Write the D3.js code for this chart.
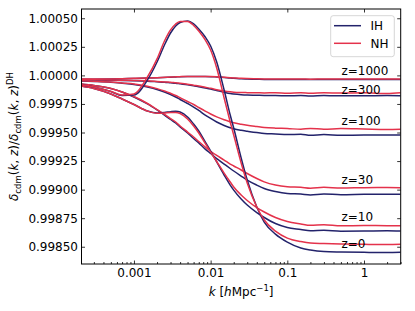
<!DOCTYPE html>
<html><head><meta charset="utf-8">
<script src="https://cdn.jsdelivr.net/npm/d3@7"></script>
<style>
html,body{margin:0;padding:0;background:#fff;}
svg{display:block;font-family:"DejaVu Sans",sans-serif;}
</style></head>
<body>
<svg id="c" width="415" height="311"></svg>
<script>
// ---- data ----
const kValues = [0.0002,0.0003,0.0005,0.0007,0.001,0.0015,0.002,0.0025,0.003,0.0035,0.004,0.005,0.006,0.007,0.0085,0.01,0.012,0.015,0.018,0.02,0.025,0.03,0.04,0.05,0.07,0.1,0.15,0.2,0.3,0.5,1,2,3];
const redshifts = ["1000","300","100","30","10","0"];
const hierarchies = ["IH","NH"];

const IH_z1000 = [0.999966,0.999967,0.999968,0.999970,0.999973,0.999976,0.999979,0.999982,0.999984,0.999986,0.999988,0.999990,0.999990,0.999990,0.999990,0.999989,0.999986,0.999982,0.999977,0.999975,0.999970,0.999968,0.999966,0.999964,0.999964,0.999964,0.999964,0.999964,0.999964,0.999964,0.999964,0.999964,0.999964];
const NH_z1000 = [0.999968,0.999968,0.999969,0.999971,0.999974,0.999977,0.999980,0.999983,0.999985,0.999987,0.999989,0.999991,0.999991,0.999991,0.999991,0.999990,0.999988,0.999984,0.999980,0.999978,0.999974,0.999972,0.999970,0.999969,0.999968,0.999968,0.999968,0.999967,0.999968,0.999968,0.999968,0.999968,0.999968];
const IH_z300 = [0.999961,0.999960,0.999957,0.999955,0.999953,0.999949,0.999944,0.999940,0.999935,0.999931,0.999926,0.999918,0.999909,0.999900,0.999890,0.999881,0.999868,0.999852,0.999841,0.999837,0.999831,0.999828,0.999826,0.999824,0.999824,0.999821,0.999824,0.999820,0.999823,0.999822,0.999822,0.999823,0.999822];
const NH_z300 = [0.999964,0.999962,0.999960,0.999958,0.999955,0.999952,0.999947,0.999943,0.999940,0.999935,0.999931,0.999923,0.999914,0.999907,0.999896,0.999887,0.999875,0.999863,0.999856,0.999853,0.999850,0.999849,0.999848,0.999846,0.999848,0.999844,0.999848,0.999844,0.999847,0.999845,0.999848,0.999841,0.999848];
const IH_z100 = [0.999951,0.999947,0.999940,0.999931,0.999920,0.999898,0.999877,0.999855,0.999833,0.999811,0.999789,0.999754,0.999723,0.999693,0.999653,0.999623,0.999592,0.999561,0.999541,0.999532,0.999519,0.999511,0.999499,0.999491,0.999487,0.999482,0.999484,0.999475,0.999482,0.999476,0.999478,0.999478,0.999478];
const NH_z100 = [0.999954,0.999949,0.999942,0.999933,0.999925,0.999905,0.999884,0.999863,0.999843,0.999824,0.999804,0.999771,0.999745,0.999719,0.999687,0.999662,0.999637,0.999611,0.999594,0.999585,0.999572,0.999563,0.999552,0.999544,0.999538,0.999535,0.999528,0.999536,0.999528,0.999535,0.999531,0.999527,0.999529];
const IH_z30 = [0.999925,0.999912,0.999885,0.999855,0.999811,0.999750,0.999697,0.999653,0.999614,0.999583,0.999548,0.999496,0.999447,0.999408,0.999355,0.999316,0.999272,0.999224,0.999185,0.999163,0.999119,0.999084,0.999040,0.999010,0.998983,0.998966,0.998961,0.998954,0.998961,0.998956,0.998959,0.998960,0.998959];
const NH_z30 = [0.999925,0.999912,0.999885,0.999855,0.999815,0.999754,0.999701,0.999659,0.999621,0.999592,0.999557,0.999504,0.999461,0.999421,0.999373,0.999336,0.999299,0.999259,0.999224,0.999207,0.999172,0.999141,0.999097,0.999068,0.999040,0.999025,0.999020,0.999012,0.999020,0.999014,0.999017,0.999018,0.999017];
const IH_z10 = [0.999907,0.999885,0.999837,0.999793,0.999745,0.999688,0.999671,0.999675,0.999682,0.999686,0.999679,0.999636,0.999574,0.999513,0.999417,0.999338,0.999242,0.999128,0.999040,0.998996,0.998918,0.998865,0.998799,0.998756,0.998703,0.998668,0.998651,0.998639,0.998644,0.998636,0.998637,0.998639,0.998637];
const NH_z10 = [0.999907,0.999885,0.999837,0.999793,0.999745,0.999688,0.999669,0.999671,0.999675,0.999675,0.999666,0.999618,0.999557,0.999496,0.999404,0.999329,0.999246,0.999145,0.999067,0.999023,0.998953,0.998905,0.998843,0.998804,0.998756,0.998721,0.998700,0.998688,0.998692,0.998683,0.998686,0.998684,0.998684];
const IH_z0 = [0.999920,0.999898,0.999859,0.999824,0.999828,0.999960,1.000117,1.000266,1.000371,1.000433,1.000463,1.000476,1.000450,1.000406,1.000336,1.000257,1.000117,0.999872,0.999653,0.999539,0.999277,0.999084,0.998848,0.998716,0.998611,0.998541,0.998489,0.998471,0.998458,0.998454,0.998451,0.998449,0.998451];
const NH_z0 = [0.999920,0.999898,0.999859,0.999828,0.999837,0.999986,1.000144,1.000301,1.000398,1.000450,1.000472,1.000472,1.000437,1.000389,1.000310,1.000222,1.000065,0.999802,0.999592,0.999478,0.999233,0.999058,0.998848,0.998734,0.998637,0.998576,0.998545,0.998532,0.998528,0.998524,0.998521,0.998519,0.998521];

const IH_series = [IH_z1000, IH_z300, IH_z100, IH_z30, IH_z10, IH_z0];
const NH_series = [NH_z1000, NH_z300, NH_z100, NH_z30, NH_z10, NH_z0];
const labelAt = [0.999968, 0.999848, 0.999531, 0.999017, 0.998684, 0.998521];

const xMajor = [0.001, 0.01, 0.1, 1];
const xMajorLabels = ["0.001", "0.01", "0.1", "1"];
const yTicks = [0.9985, 0.99875, 0.999, 0.99925, 0.9995, 0.99975, 1.0, 1.00025, 1.0005];

// ---- layout ----
const L = 81.5, R = 400.7, T = 9, B = 264;
const colors = {IH: "#23236b", NH: "#e4324b"};
const svg = d3.select("#c");
const x = d3.scaleLog().domain([2.07e-4, 3.01]).range([L, R]);
const y = d3.scaleLinear().domain([0.998349, 1.000581]).range([B, T]);

const minor = [];
for (let e = -4; e <= 0; e++) for (let m = 2; m <= 9; m++) {
  const v = m * Math.pow(10, e);
  if (v > x.domain()[0] && v < x.domain()[1]) minor.push(v);
}

const plot = svg.append("g");
plot.append("clipPath").attr("id", "clip").append("rect")
  .attr("x", L).attr("y", T).attr("width", R - L).attr("height", B - T);

const line = d3.line().x((d, i) => x(kValues[i])).y(d => y(d)).curve(d3.curveMonotoneX);
const lg = plot.append("g").attr("clip-path", "url(#clip)");
redshifts.forEach((z, j) => {
  lg.append("path").datum(IH_series[j]).attr("d", line)
    .attr("fill", "none").attr("stroke", colors.IH).attr("stroke-width", 1.5);
  lg.append("path").datum(NH_series[j]).attr("d", line)
    .attr("fill", "none").attr("stroke", colors.NH).attr("stroke-width", 1.5);
});

// axes
function styleAxis(g) {
  g.select(".domain").remove();
  g.selectAll(".tick line").attr("stroke", "#000").attr("stroke-width", 0.8);
  g.selectAll(".tick text").attr("fill", "#000").style("font-family", "DejaVu Sans").style("font-size", "12px");
}
svg.append("g").attr("transform", `translate(0,${B})`)
  .call(d3.axisBottom(x).tickValues(xMajor).tickSize(-3.5).tickPadding(4)
    .tickFormat((d, i) => xMajorLabels[i])).call(styleAxis);
svg.append("g").attr("transform", `translate(0,${B})`)
  .call(d3.axisBottom(x).tickValues(minor).tickSize(-2).tickFormat("")).call(styleAxis);
svg.append("g").attr("transform", `translate(0,${T})`)
  .call(d3.axisTop(x).tickValues(xMajor).tickSize(-3.5).tickFormat("")).call(styleAxis);
svg.append("g").attr("transform", `translate(${L},0)`)
  .call(d3.axisLeft(y).tickValues(yTicks).tickSize(-3.5).tickPadding(3.5)
    .tickFormat(d3.format(".5f"))).call(styleAxis);
svg.append("g").attr("transform", `translate(${R},0)`)
  .call(d3.axisRight(y).tickValues(yTicks).tickSize(-3.5).tickFormat("")).call(styleAxis);

svg.append("rect").attr("x", L).attr("y", T).attr("width", R - L).attr("height", B - T)
  .attr("fill", "none").attr("stroke", "#000").attr("stroke-width", 1);

// z labels
redshifts.forEach((z, j) => {
  svg.append("text").attr("x", 341.5).attr("y", y(labelAt[j]) - [4.5, -1, 3.5, 3.5, 4.5, -4][j])
    .attr("font-size", 12).attr("fill", "#000").text("z=" + z);
});

// legend
const leg = svg.append("g");
leg.append("rect").attr("x", 330.7).attr("y", 15.7).attr("width", 63.6).attr("height", 41)
  .attr("rx", 2.5).attr("fill", "#fff").attr("fill-opacity", 0.8).attr("stroke", "#cccccc").attr("stroke-width", 0.8);
hierarchies.forEach((h, i) => {
  const yy = 25.7 + i * 17.6;
  leg.append("line").attr("x1", 334).attr("x2", 361).attr("y1", yy).attr("y2", yy)
    .attr("stroke", colors[h]).attr("stroke-width", 1.5);
  leg.append("text").attr("x", 370.5).attr("y", yy + 4.4).attr("font-size", 12).attr("fill", "#000").text(h);
});

// x label
const xl = svg.append("text").attr("x", (L + R) / 2).attr("y", 295.5).attr("text-anchor", "middle")
  .attr("font-size", 12).attr("fill", "#000");
xl.append("tspan").attr("font-style", "italic").text("k");
xl.append("tspan").text(" [");
xl.append("tspan").attr("font-style", "italic").text("h");
xl.append("tspan").text("Mpc");
xl.append("tspan").attr("font-size", 8.5).attr("dy", -4.5).text("−1");
xl.append("tspan").attr("dy", 4.5).text("]");

// y label
const yl = svg.append("text").attr("transform", `translate(18,${(T + B) / 2}) rotate(-90)`)
  .attr("text-anchor", "middle").attr("font-size", 12).attr("fill", "#000");
function delta(sel) {
  sel.append("tspan").attr("font-style", "italic").text("δ");
  sel.append("tspan").attr("font-size", 8.5).attr("dy", 2.5).text("cdm");
  sel.append("tspan").attr("dy", -2.5).text("(");
  sel.append("tspan").attr("font-style", "italic").text("k");
  sel.append("tspan").text(", ");
  sel.append("tspan").attr("font-style", "italic").text("z");
  sel.append("tspan").text(")");
}
delta(yl);
yl.append("tspan").text("/");
delta(yl);
yl.append("tspan").attr("font-size", 8.5).attr("dy", -5).text("DH");
</script>
</body></html>
